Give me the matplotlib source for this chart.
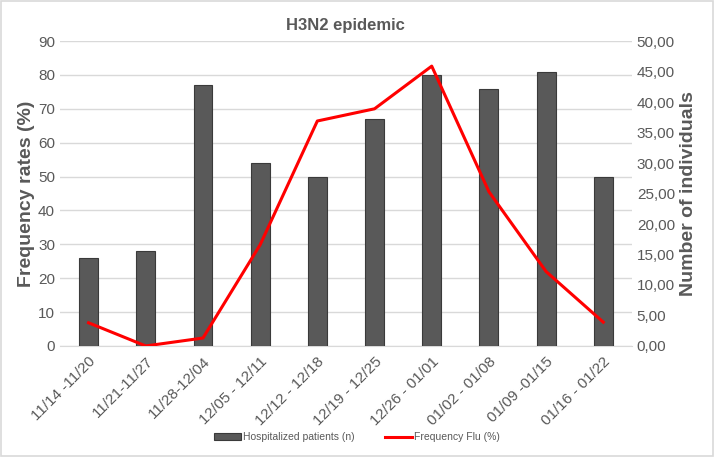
import matplotlib
matplotlib.use("Agg")
import matplotlib.pyplot as plt
from matplotlib import font_manager as fm
from matplotlib.patches import Rectangle

names = {f.name for f in fm.fontManager.ttflist}
fam = ['Liberation Sans Narrow'] if 'Liberation Sans Narrow' in names else ['Liberation Sans']
plt.rcParams['font.family'] = fam + ['DejaVu Sans']

categories = ["11/14 -11/20", "11/21-11/27", "11/28-12/04", "12/05 - 12/11", "12/12 - 12/18",
              "12/19 - 12/25", "12/26 - 01/01", "01/02 - 01/08", "01/09 -01/15", "01/16 - 01/22"]
hospitalized = [26, 28, 77, 54, 50, 67, 80, 76, 81, 50]
frequency_flu = [3.8, 0.0, 1.3, 16.6, 36.9, 38.9, 45.9, 25.3, 12.2, 3.9]
left_ticks = list(range(0, 91, 10))
right_ticks = [0, 5, 10, 15, 20, 25, 30, 35, 40, 45, 50]

fig = plt.figure(figsize=(7.14, 4.57), dpi=100)
fig.patches.append(Rectangle((0.002, 0.003), 0.996, 0.994, transform=fig.transFigure,
                             fill=False, edgecolor='#d9d9d9', lw=1.2))
ax = fig.add_axes([0.084, 0.243, 0.801, 0.667])
ax2 = ax.twinx()

x = list(range(len(categories)))
ax.bar(x, hospitalized, width=0.33, color='#595959', edgecolor='#3a3a3a', linewidth=0.8,
       label='Hospitalized patients (n)', zorder=3)
ln, = ax2.plot(x, frequency_flu, color='#ff0000', lw=2.2, label='Frequency Flu (%)', zorder=4)

ax.set_xlim(-0.5, len(categories) - 0.5)
ax.set_ylim(0, 90)
ax.set_yticks(left_ticks)
ax2.set_ylim(0, 50)
ax2.set_yticks(right_ticks)
ax2.set_yticklabels([f"{v:.2f}".replace('.', ',') for v in right_ticks])

ax.grid(axis='y', color='#d9d9d9', lw=1, zorder=0)
ax.set_axisbelow(True)
for a in (ax, ax2):
    for s in a.spines.values():
        s.set_visible(False)
    a.tick_params(length=0, colors='#595959', labelsize=11)
ax.spines['bottom'].set_visible(True)
ax.spines['bottom'].set_color('#d9d9d9')

ax.set_xticks(x)
ax.set_xticklabels(categories, rotation=45, ha='right', rotation_mode='anchor', fontsize=11,
                   color='#595959')
ax.tick_params(axis='x', pad=6)

ax.set_ylabel('Frequency rates (%)', fontsize=14, fontweight='bold', color='#595959', labelpad=2)
ax2.set_ylabel('Number of individuals', fontsize=14, fontweight='bold', color='#595959', labelpad=4)
ax.set_title('H3N2 epidemic', fontsize=12, fontweight='bold', color='#595959', pad=8)

h1, l1 = ax.get_legend_handles_labels()
h2, l2 = ax2.get_legend_handles_labels()
fig.legend(h1 + h2, l1 + l2, loc='center', bbox_to_anchor=(0.5, 0.043), ncol=2, frameon=False,
           fontsize=7.5, labelcolor='#595959', handlelength=2.5, handleheight=0.6,
           columnspacing=3, handletextpad=0.2)

fig.savefig('out.png', dpi=100)
